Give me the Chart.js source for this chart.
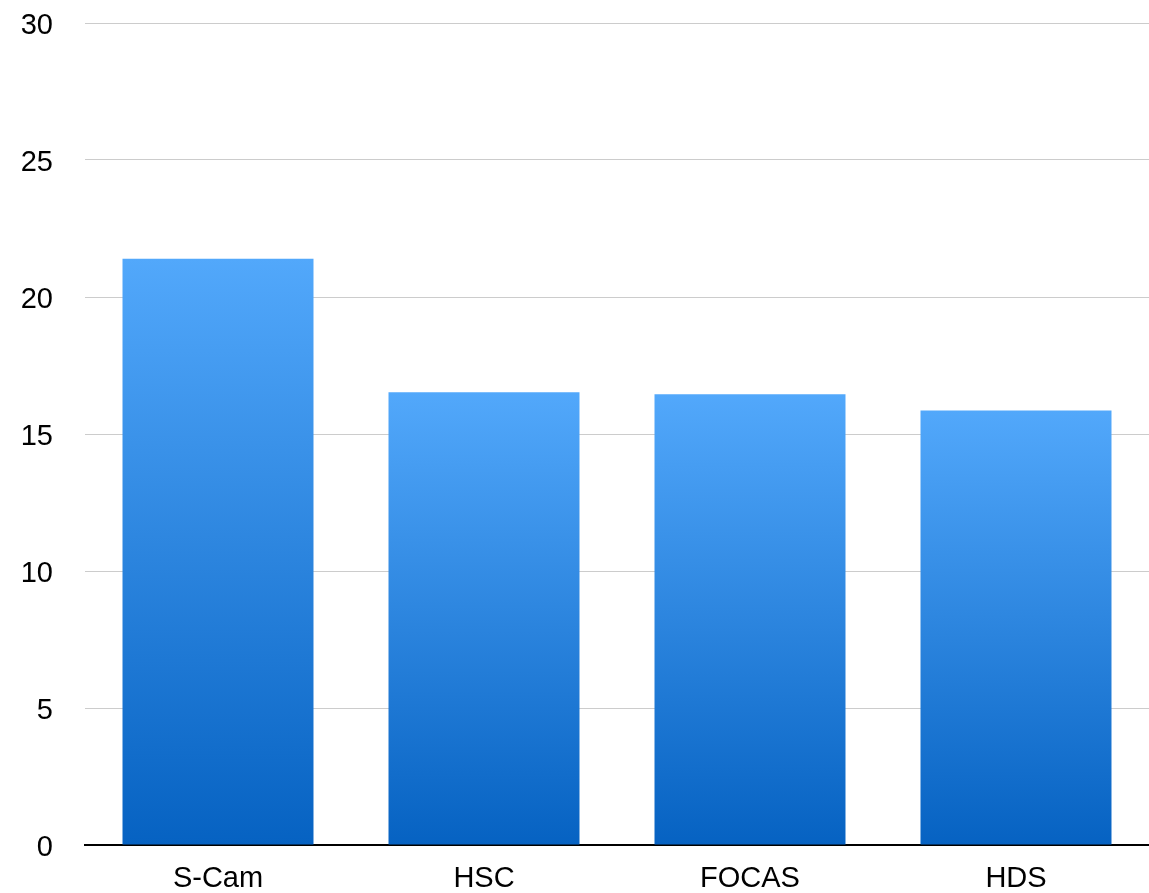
<!DOCTYPE html>
<html>
<head>
<meta charset="utf-8">
<script src="https://cdn.jsdelivr.net/npm/chart.js@4/dist/chart.umd.min.js"></script>
<style>
  body { margin: 0; background: #fff; }
  canvas { display: block; }
</style>
</head>
<body>
<canvas id="myChart" width="1149" height="893"></canvas>
<script>
// instruments and their values
const labels = ["S-Cam", "HSC", "FOCAS", "HDS"]
const values = [21.4, 16.52, 16.45, 15.86]
const y_ticks = [0, 5, 10, 15, 20, 25, 30]

const font_family = "'Liberation Sans', Arial, Helvetica, sans-serif"

// each bar gets its own gradient, light at the top, dark at the base
function bar_gradient(context){
    const chart = context.chart
    if(!chart.chartArea) return "#2f8ae6"
    const y = chart.scales.y
    const top = y.getPixelForValue(context.raw)
    const base = y.getPixelForValue(0)
    const g = chart.ctx.createLinearGradient(0, top, 0, base)
    g.addColorStop(0, "#52a8fb")
    g.addColorStop(1, "#0662c2")
    return g
}

const ctx = document.getElementById('myChart').getContext('2d')

new Chart(ctx, {
    type: 'bar',
    data: {
        labels: labels,
        datasets: [{
            data: values,
            backgroundColor: bar_gradient,
            borderWidth: 0,
            barPercentage: 0.718,
            categoryPercentage: 1
        }]
    },
    options: {
        responsive: false,
        animation: false,
        layout: {
            padding: { top: 23, right: 0, left: 0, bottom: 0 }
        },
        plugins: {
            legend: { display: false },
            tooltip: { enabled: false }
        },
        scales: {
            x: {
                grid: { display: false, drawTicks: false },
                border: { display: true, color: "#000", width: 2 },
                afterFit: (axis) => { axis.height = 48; axis.paddingLeft = 0; axis.paddingRight = 0 },
                ticks: {
                    color: "#000",
                    padding: 17,
                    font: { family: font_family, size: 29 }
                }
            },
            y: {
                min: 0,
                max: 30,
                afterBuildTicks: (axis) => { axis.ticks = y_ticks.map(v => ({ value: v })) },
                grid: {
                    color: "#cccccc",
                    lineWidth: 1,
                    drawTicks: false
                },
                border: { display: false },
                afterFit: (axis) => { axis.width = 85; axis.paddingTop = 0; axis.paddingBottom = 0 },
                ticks: {
                    color: "#000",
                    padding: 32,
                    labelOffset: 3,
                    font: { family: font_family, size: 29 }
                }
            }
        }
    }
})
</script>
</body>
</html>
